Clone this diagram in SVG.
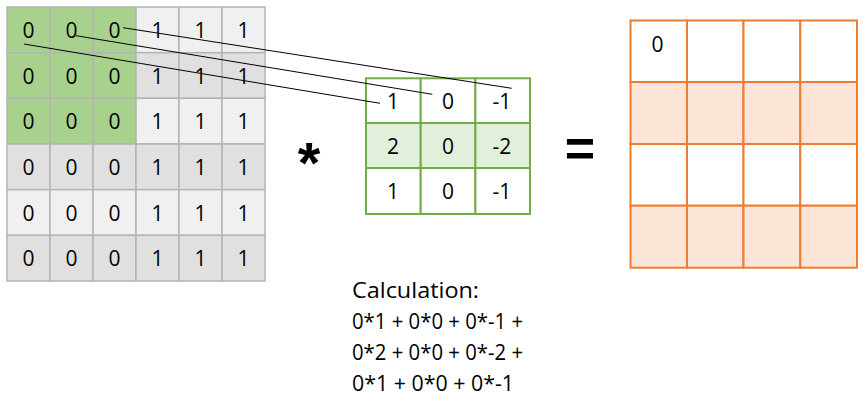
<svg xmlns="http://www.w3.org/2000/svg" width="868" height="403" viewBox="0 0 868 403">
<style>
.t{font-family:"Open Sans","Liberation Sans",sans-serif;font-size:21px;fill:#000;text-anchor:middle}
.g{stroke:#b4b4b4;stroke-width:1.5}
.l{fill:#f0f0f0}.d{fill:#e0e0e0}.gr{fill:#a9d18e}
.k{stroke:#70ad47;stroke-width:2}
.o{stroke:#ed7d31;stroke-width:2}
.calc{font-family:"Open Sans","Liberation Sans",sans-serif;font-size:22px;fill:#000}
.conn{stroke:#000;stroke-width:1;fill:none}
</style>
<rect width="868" height="403" fill="#fff"/>
<g id="input">
<g class="g">
<rect class="gr" x="7" y="7" width="43" height="45.7"/><rect class="gr" x="50" y="7" width="43" height="45.7"/><rect class="gr" x="93" y="7" width="43" height="45.7"/>
<rect class="l" x="136" y="7" width="43" height="45.7"/><rect class="l" x="179" y="7" width="43" height="45.7"/><rect class="l" x="222" y="7" width="43" height="45.7"/>
<rect class="gr" x="7" y="52.7" width="43" height="45.6"/><rect class="gr" x="50" y="52.7" width="43" height="45.6"/><rect class="gr" x="93" y="52.7" width="43" height="45.6"/>
<rect class="d" x="136" y="52.7" width="43" height="45.6"/><rect class="d" x="179" y="52.7" width="43" height="45.6"/><rect class="d" x="222" y="52.7" width="43" height="45.6"/>
<rect class="gr" x="7" y="98.3" width="43" height="45.7"/><rect class="gr" x="50" y="98.3" width="43" height="45.7"/><rect class="gr" x="93" y="98.3" width="43" height="45.7"/>
<rect class="l" x="136" y="98.3" width="43" height="45.7"/><rect class="l" x="179" y="98.3" width="43" height="45.7"/><rect class="l" x="222" y="98.3" width="43" height="45.7"/>
<rect class="d" x="7" y="144" width="43" height="45.7"/><rect class="d" x="50" y="144" width="43" height="45.7"/><rect class="d" x="93" y="144" width="43" height="45.7"/>
<rect class="d" x="136" y="144" width="43" height="45.7"/><rect class="d" x="179" y="144" width="43" height="45.7"/><rect class="d" x="222" y="144" width="43" height="45.7"/>
<rect class="l" x="7" y="189.7" width="43" height="45.6"/><rect class="l" x="50" y="189.7" width="43" height="45.6"/><rect class="l" x="93" y="189.7" width="43" height="45.6"/>
<rect class="l" x="136" y="189.7" width="43" height="45.6"/><rect class="l" x="179" y="189.7" width="43" height="45.6"/><rect class="l" x="222" y="189.7" width="43" height="45.6"/>
<rect class="d" x="7" y="235.3" width="43" height="45.7"/><rect class="d" x="50" y="235.3" width="43" height="45.7"/><rect class="d" x="93" y="235.3" width="43" height="45.7"/>
<rect class="d" x="136" y="235.3" width="43" height="45.7"/><rect class="d" x="179" y="235.3" width="43" height="45.7"/><rect class="d" x="222" y="235.3" width="43" height="45.7"/>
</g>
<g class="t">
<text x="28.5" y="38">0</text><text x="71.5" y="38">0</text><text x="114.5" y="38">0</text><text x="157.5" y="38">1</text><text x="200.5" y="38">1</text><text x="243.5" y="38">1</text>
<text x="28.5" y="83.5">0</text><text x="71.5" y="83.5">0</text><text x="114.5" y="83.5">0</text><text x="157.5" y="83.5">1</text><text x="200.5" y="83.5">1</text><text x="243.5" y="83.5">1</text>
<text x="28.5" y="129.2">0</text><text x="71.5" y="129.2">0</text><text x="114.5" y="129.2">0</text><text x="157.5" y="129.2">1</text><text x="200.5" y="129.2">1</text><text x="243.5" y="129.2">1</text>
<text x="28.5" y="174.8">0</text><text x="71.5" y="174.8">0</text><text x="114.5" y="174.8">0</text><text x="157.5" y="174.8">1</text><text x="200.5" y="174.8">1</text><text x="243.5" y="174.8">1</text>
<text x="28.5" y="220.5">0</text><text x="71.5" y="220.5">0</text><text x="114.5" y="220.5">0</text><text x="157.5" y="220.5">1</text><text x="200.5" y="220.5">1</text><text x="243.5" y="220.5">1</text>
<text x="28.5" y="266.1">0</text><text x="71.5" y="266.1">0</text><text x="114.5" y="266.1">0</text><text x="157.5" y="266.1">1</text><text x="200.5" y="266.1">1</text><text x="243.5" y="266.1">1</text>
</g>
</g>
<g id="operator-mult">
<text x="309" y="183" style="font-family:'Liberation Sans',sans-serif;font-size:58px;font-weight:bold;text-anchor:middle">*</text>
</g>
<g id="kernel">
<g class="k">
<rect x="366" y="78.3" width="54.7" height="44.7" fill="#fff"/><rect x="420.7" y="78.3" width="54.7" height="44.7" fill="#fff"/><rect x="475.4" y="78.3" width="54.6" height="44.7" fill="#fff"/>
<rect x="366" y="123" width="54.7" height="45" fill="#e2efda"/><rect x="420.7" y="123" width="54.7" height="45" fill="#e2efda"/><rect x="475.4" y="123" width="54.6" height="45" fill="#e2efda"/>
<rect x="366" y="168" width="54.7" height="46" fill="#fff"/><rect x="420.7" y="168" width="54.7" height="46" fill="#fff"/><rect x="475.4" y="168" width="54.6" height="46" fill="#fff"/>
</g>
<g class="t">
<text x="393" y="108.5">1</text><text x="448" y="108.5">0</text><text x="502" y="108.5">-1</text>
<text x="393" y="153.5">2</text><text x="448" y="153.5">0</text><text x="502" y="153.5">-2</text>
<text x="393" y="198.5">1</text><text x="448" y="198.5">0</text><text x="502" y="198.5">-1</text>
</g>
</g>
<g id="operator-eq">
<text x="580" y="166" style="font-family:'Liberation Sans',sans-serif;font-size:52px;font-weight:bold;text-anchor:middle">=</text>
</g>
<g id="output">
<g class="o">
<rect x="630.5" y="20.5" width="56.5" height="61.5" fill="#fff"/><rect x="687" y="20.5" width="56.5" height="61.5" fill="#fff"/><rect x="743.5" y="20.5" width="56.8" height="61.5" fill="#fff"/><rect x="800.3" y="20.5" width="56.7" height="61.5" fill="#fff"/>
<rect x="630.5" y="82" width="56.5" height="62" fill="#fbe5d6"/><rect x="687" y="82" width="56.5" height="62" fill="#fbe5d6"/><rect x="743.5" y="82" width="56.8" height="62" fill="#fbe5d6"/><rect x="800.3" y="82" width="56.7" height="62" fill="#fbe5d6"/>
<rect x="630.5" y="144" width="56.5" height="61.7" fill="#fff"/><rect x="687" y="144" width="56.5" height="61.7" fill="#fff"/><rect x="743.5" y="144" width="56.8" height="61.7" fill="#fff"/><rect x="800.3" y="144" width="56.7" height="61.7" fill="#fff"/>
<rect x="630.5" y="205.7" width="56.5" height="62" fill="#fbe5d6"/><rect x="687" y="205.7" width="56.5" height="62" fill="#fbe5d6"/><rect x="743.5" y="205.7" width="56.8" height="62" fill="#fbe5d6"/><rect x="800.3" y="205.7" width="56.7" height="62" fill="#fbe5d6"/>
</g>
<text class="t" x="657.5" y="51.5">0</text>
</g>
<g id="connectors">
<line class="conn" x1="24" y1="44" x2="380" y2="103.3"/>
<line class="conn" x1="76" y1="35.7" x2="432.3" y2="94.3"/>
<line class="conn" x1="123" y1="27.7" x2="511.7" y2="88.3"/>
</g>
<g id="calculation">
<text class="calc" x="352" y="298" textLength="127" lengthAdjust="spacingAndGlyphs">Calculation:</text>
<text class="calc" x="352" y="329" textLength="171" lengthAdjust="spacingAndGlyphs">0*1 + 0*0 + 0*-1 +</text>
<text class="calc" x="352" y="360" textLength="171" lengthAdjust="spacingAndGlyphs">0*2 + 0*0 + 0*-2 +</text>
<text class="calc" x="352" y="391" textLength="162" lengthAdjust="spacingAndGlyphs">0*1 + 0*0 + 0*-1</text>
</g>
</svg>
